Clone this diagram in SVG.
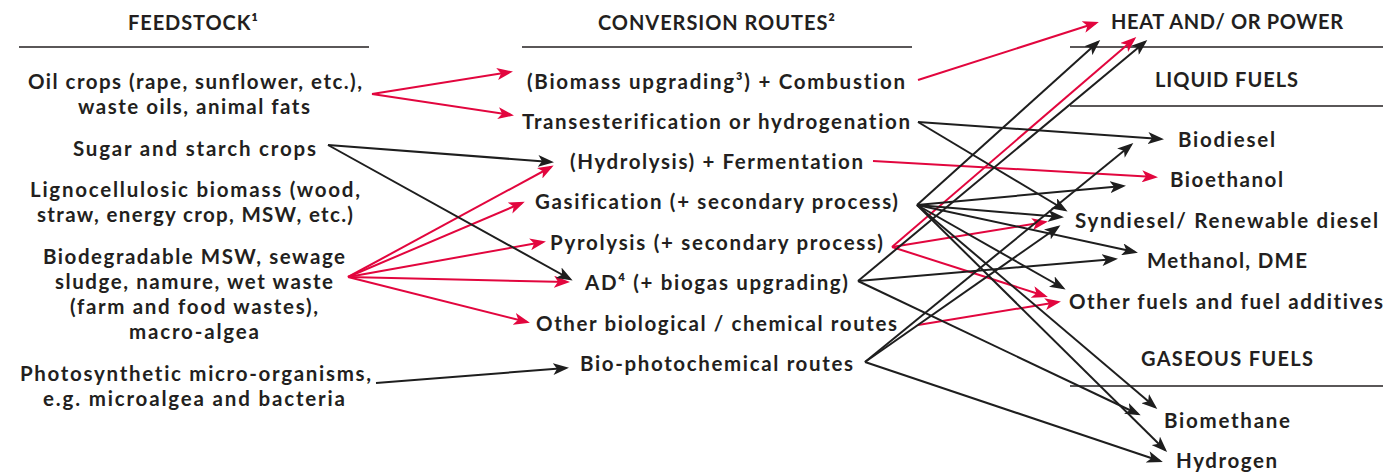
<svg xmlns="http://www.w3.org/2000/svg" width="1386" height="474" viewBox="0 0 1386 474">
<defs>
<style>
text{font-family:Lato,"Open Sans","Liberation Sans",sans-serif;fill:#231f20;text-anchor:middle;font-variant-ligatures:none}
.t{font-size:20.5px;font-weight:700}
.h{font-size:20px;font-weight:700}
.rule{stroke:#231f20;stroke-width:1.5;fill:none}
.k{stroke:#1e1e1e;stroke-width:2;fill:none;marker-end:url(#ak)}
.r{stroke:#e2063e;stroke-width:2;fill:none;marker-end:url(#ar)}
</style>
<marker id="ak" viewBox="0 0 16 12" refX="13" refY="6" markerWidth="16" markerHeight="12" markerUnits="userSpaceOnUse" orient="auto"><path d="M0,0 L16,6 L0,12 L4,6 z" fill="#1e1e1e"/></marker>
<marker id="ar" viewBox="0 0 16 12" refX="13" refY="6" markerWidth="16" markerHeight="12" markerUnits="userSpaceOnUse" orient="auto"><path d="M0,0 L16,6 L0,12 L4,6 z" fill="#e2063e"/></marker>
</defs>
<rect width="1386" height="474" fill="#fff"/>
<g id="headers">
<text class="h" x="193" y="30" textLength="130" lengthAdjust="spacing">FEEDSTOCK¹</text>
<line class="rule" x1="19" y1="47" x2="369" y2="47"/>
<text class="h" x="716.5" y="30" textLength="237" lengthAdjust="spacing">CONVERSION ROUTES²</text>
<line class="rule" x1="522" y1="47" x2="912" y2="47"/>
<text class="h" x="1227" y="29" textLength="232" lengthAdjust="spacing">HEAT AND/ OR POWER</text>
<line class="rule" x1="1070" y1="47" x2="1383" y2="47"/>
<text class="h" x="1226.5" y="87" textLength="143" lengthAdjust="spacing">LIQUID FUELS</text>
<line class="rule" x1="1070" y1="106" x2="1383" y2="106"/>
<text class="h" x="1227" y="366" textLength="172" lengthAdjust="spacing">GASEOUS FUELS</text>
<line class="rule" x1="1070" y1="386" x2="1383" y2="386"/>
</g>
<g id="feedstock">
<g id="f-oil"><text class="t" x="195" y="89" textLength="334" lengthAdjust="spacing">Oil crops (rape, sunflower, etc.),</text><text class="t" x="194" y="114" textLength="232" lengthAdjust="spacing">waste oils, animal fats</text></g>
<g id="f-sugar"><text class="t" x="194.5" y="156" textLength="243" lengthAdjust="spacing">Sugar and starch crops</text></g>
<g id="f-ligno"><text class="t" x="195" y="197" textLength="330" lengthAdjust="spacing">Lignocellulosic biomass (wood,</text><text class="t" x="195" y="222" textLength="316" lengthAdjust="spacing">straw, energy crop, MSW, etc.)</text></g>
<g id="f-biodeg"><text class="t" x="194" y="264" textLength="302" lengthAdjust="spacing">Biodegradable MSW, sewage</text><text class="t" x="194" y="289" textLength="278" lengthAdjust="spacing">sludge, namure, wet waste</text><text class="t" x="194" y="314" textLength="248" lengthAdjust="spacing">(farm and food wastes),</text><text class="t" x="194" y="339" textLength="130" lengthAdjust="spacing">macro-algea</text></g>
<g id="f-photo"><text class="t" x="195.5" y="381" textLength="351" lengthAdjust="spacing">Photosynthetic micro-organisms,</text><text class="t" x="194" y="406" textLength="302" lengthAdjust="spacing">e.g. microalgea and bacteria</text></g>
</g>
<g id="routes">
<g id="r-comb"><text class="t" x="716" y="89" textLength="378" lengthAdjust="spacing">(Biomass upgrading³) + Combustion</text></g>
<g id="r-trans"><text class="t" x="716" y="129" textLength="388" lengthAdjust="spacing">Transesterification or hydrogenation</text></g>
<g id="r-ferm"><text class="t" x="716.5" y="169" textLength="293" lengthAdjust="spacing">(Hydrolysis) + Fermentation</text></g>
<g id="r-gas"><text class="t" x="716.5" y="209" textLength="363" lengthAdjust="spacing">Gasification (+ secondary process)</text></g>
<g id="r-pyro"><text class="t" x="716.5" y="250" textLength="333" lengthAdjust="spacing">Pyrolysis (+ secondary process)</text></g>
<g id="r-ad"><text class="t" x="716.5" y="290" textLength="263" lengthAdjust="spacing">AD⁴ (+ biogas upgrading)</text></g>
<g id="r-other"><text class="t" x="716.5" y="331" textLength="361" lengthAdjust="spacing">Other biological / chemical routes</text></g>
<g id="r-photo"><text class="t" x="716.5" y="371" textLength="273" lengthAdjust="spacing">Bio-photochemical routes</text></g>
</g>
<g id="products">
<g id="p-biodiesel"><text class="t" x="1226.5" y="147" textLength="97" lengthAdjust="spacing">Biodiesel</text></g>
<g id="p-bioethanol"><text class="t" x="1226.5" y="187" textLength="113" lengthAdjust="spacing">Bioethanol</text></g>
<g id="p-syndiesel"><text class="t" x="1226.5" y="228" textLength="303" lengthAdjust="spacing">Syndiesel/ Renewable diesel</text></g>
<g id="p-methanol"><text class="t" x="1227" y="268" textLength="160" lengthAdjust="spacing">Methanol, DME</text></g>
<g id="p-otherfuels"><text class="t" x="1226" y="309" textLength="314" lengthAdjust="spacing">Other fuels and fuel additives</text></g>
<g id="p-biomethane"><text class="t" x="1227" y="428" textLength="126" lengthAdjust="spacing">Biomethane</text></g>
<g id="p-hydrogen"><text class="t" x="1226.5" y="468" textLength="101" lengthAdjust="spacing">Hydrogen</text></g>
</g>
<g id="connectors">
<path class="r" d="M372,94 L510,72"/>
<path class="r" d="M372,94 L511,115"/>
<path class="r" d="M348,277 L551,167"/>
<path class="r" d="M348,277 L522,203"/>
<path class="r" d="M348,277 L543,242"/>
<path class="r" d="M348,277 L567,282"/>
<path class="r" d="M348,277 L527,322"/>
<path class="r" d="M918,80 L1096,23"/>
<path class="r" d="M873,161 L1155,177"/>
<path class="r" d="M892,247 L1134,39"/>
<path class="r" d="M892,247 L1045,222"/>
<path class="r" d="M892,247 L1045,296"/>
<path class="r" d="M918,325 L1058,302"/>
<path class="k" d="M328,145 L551,162"/>
<path class="k" d="M328,145 L570,279"/>
<path class="k" d="M376,383 L566,368"/>
<path class="k" d="M918,122 L1161,139"/>
<path class="k" d="M918,122 L1065,210"/>
<path class="k" d="M917,205 L1098,42"/>
<path class="k" d="M917,205 L1123,186"/>
<path class="k" d="M917,205 L1061,217"/>
<path class="k" d="M917,205 L1135,252"/>
<path class="k" d="M917,205 L1063,288"/>
<path class="k" d="M917,205 L1155,407"/>
<path class="k" d="M917,205 L1165,450"/>
<path class="k" d="M858,281 L1145,42"/>
<path class="k" d="M858,281 L1115,259"/>
<path class="k" d="M858,281 L1138,414"/>
<path class="k" d="M865,362 L1131,145"/>
<path class="k" d="M865,362 L1058,227"/>
<path class="k" d="M865,362 L1160,461"/>
</g>
</svg>
